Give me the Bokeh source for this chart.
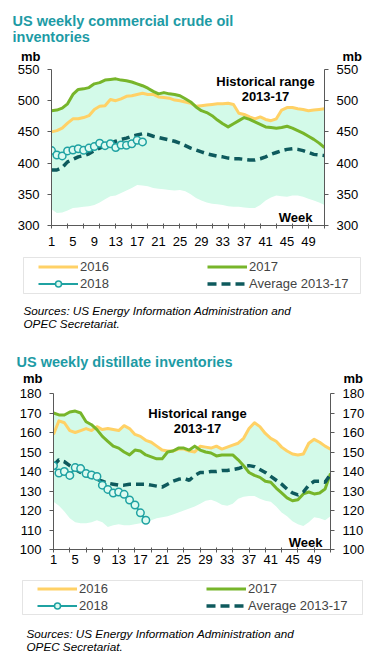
from bokeh.plotting import figure
from bokeh.models import (Range1d, LinearAxis, FixedTicker, Legend, LegendItem,
                          Label, BoxAnnotation)
from bokeh.embed import file_html
from bokeh.resources import INLINE

# ---------------- data ----------------
weeks = list(range(1, 53))
weeks_2018 = list(range(1, 19))
x_tick_labels = [1, 5, 9, 13, 17, 21, 25, 29, 33, 37, 41, 45, 49]
x_minor_ticks = list(range(1, 53, 3))

crude_ticks = [300, 350, 400, 450, 500, 550]
crude_2016 = [450, 452, 456, 464, 471, 471, 473, 476, 486, 491, 492, 502, 500, 503, 507, 508,
              510, 512, 510, 510, 506, 505, 504, 501, 500, 498, 496,
              491, 492, 493, 494, 495, 495, 496, 494, 480, 478, 474, 471, 474, 470, 468, 471,
              485, 489, 489, 487, 486, 484, 485, 486, 487]
crude_2017 = [484, 485, 488, 495, 510, 518, 519, 521, 527, 529, 533, 534, 535, 533, 532, 530,
              527, 524, 520, 515, 511, 513, 511, 510, 508, 503, 498,
              490, 484, 481, 476, 469, 463, 458, 463, 468, 473, 470, 466, 462, 458, 457, 456,
              457, 459, 456, 452, 448, 443, 438, 432, 425]
crude_2018 = [420, 413, 411.5, 419.5, 421, 423, 420.5, 424, 426.5, 432, 428, 431, 425, 429,
              428.5, 431, 436.5, 434]
crude_avg = [389, 389, 393, 402, 406, 410, 412, 415, 420, 424, 428, 432, 435, 438, 440, 443,
             445, 447, 446, 443, 441, 439, 437, 435, 432, 428, 424, 421, 418, 415, 413, 411,
             410, 408, 407, 407, 406, 405, 405, 407, 410, 414, 417, 420, 422, 423, 422, 420,
             417, 414, 413, 412]
crude_max = [484, 485, 488, 495, 510, 518, 519, 521, 527, 529, 533, 534, 535, 533, 532, 530,
             527, 524, 520, 515, 511, 513, 511, 510, 508, 503, 498,
             491, 492, 493, 494, 495, 495, 496, 494, 480, 478, 474, 471, 474, 470, 468, 471,
             485, 489, 489, 487, 486, 484, 485, 486, 487]
crude_min = [326, 320, 321, 324, 328, 329, 330, 331, 333, 337, 342, 347, 348, 352, 356, 360,
             365, 364, 363, 360, 359, 358, 357, 356, 357, 355, 350, 344, 340, 337, 335, 334,
             333, 331, 330, 330, 329, 328, 328, 333, 340, 345, 348, 347, 346, 348, 348, 346,
             343, 340, 337, 333]

dist_ticks = [100, 110, 120, 130, 140, 150, 160, 170, 180]
dist_2016 = [159, 166, 165, 161, 160, 161, 162, 161, 163, 161.5, 162, 161.5, 161, 163.5, 162,
             159, 158, 156, 155, 153, 151, 150.5, 150.5, 151.5, 151.5,
             150.5, 150, 153, 152.5, 152, 153, 151.5, 152.5, 153.5, 154.5, 157, 162, 165, 163,
             159.5, 157, 155.5, 152.5, 150.5, 149, 148.5, 149, 154.5, 156.5, 155, 153, 151.5]
dist_2017 = [170, 169, 169, 170.5, 171, 170, 165.5, 164, 161.5, 158, 155.5, 153, 152, 150,
             148.5, 151, 150.5, 148.5, 147.5, 146.5, 146.5, 150, 150.5, 152, 152, 151,
             153, 151, 150, 149.5, 148, 148.5, 148.5, 148.5, 146, 143, 139.5, 138, 137, 135,
             134.5, 131.5, 129, 126.5, 125, 125.5, 128.5, 129.5, 128.5, 129, 131, 139]
dist_2018 = [143, 139.2, 140, 138, 142, 141.5, 139, 138.2, 137.5, 133, 130.8, 129, 129.5,
             128.3, 125.4, 122.8, 118.8, 115]
dist_avg = [143, 146, 145, 143, 141, 139.5, 138, 137, 136, 135, 134, 133.5, 133, 133, 133.5,
            133.5, 133.5, 133.5, 133, 132.5, 132, 133.5, 135, 136, 136.5, 135.5, 138, 139.5,
            139.5, 140, 140, 140.5, 140.5, 141, 141.5, 142.5, 143, 142.5, 141, 139.5, 137.5,
            135.5, 133.5, 131, 129, 128, 129.5, 133, 135, 135, 134.5, 138.5]
dist_max = [170, 169, 169, 170.5, 171, 170, 165.5, 164, 163, 161.5, 162, 161.5, 161, 163.5,
            162, 159, 158, 156, 155, 153, 151, 150.5, 150.5, 152, 152, 151, 153, 153, 152.5,
            152, 153, 151.5, 152.5, 153.5, 154.5, 157, 162, 165, 163, 159.5, 157, 155.5,
            152.5, 150.5, 149, 148.5, 149, 154.5, 156.5, 155, 153, 151.5]
dist_min = [124.5, 122.5, 119.5, 116, 114, 113.5, 113.5, 114, 115, 114, 111.5, 112.5, 113,
            112.5, 112.5, 113, 113.5, 114, 115, 116, 116.5, 117, 118, 119, 120, 121, 122,
            123.5, 125, 125.5, 124.5, 123, 122.5, 123.5, 126, 127, 127.5, 127.5, 126, 125,
            124.5, 122, 119, 117, 114.5, 113, 112, 114, 116.5, 116, 115, 117]

series_names = ["2016", "2017", "2018", "Average 2013-17"]
source_lines = ["Sources: US Energy Information Administration  and", "OPEC Secretariat."]

# ---------------- style ----------------
FONT = "Liberation Sans"
C2016 = "#FFD166"
C2017 = "#77B52A"
C2018 = "#1FA2A2"
CAVG = "#0E5A5D"
CBAND = "#D3FAE9"
CTITLE = "#1D9BA5"
CAXIS = "#595959"
MARKER_FILL = "#DDFBF1"
W = 376


def text_fig(h):
    """A blank strip whose frame is the whole strip; data units = pixels."""
    f = figure(width=W, height=h, x_range=Range1d(0, W), y_range=Range1d(h, 0),
               output_backend="svg", toolbar_location=None, title=None,
               x_axis_location=None, y_axis_location=None,
               min_border_left=0, min_border_right=0, min_border_top=0,
               min_border_bottom=0, outline_line_color=None)
    f.xgrid.grid_line_color = None
    f.ygrid.grid_line_color = None
    return f


def add_text(f, text, x, y, size="13px", style="normal", color="black", align="left"):
    f.add_layout(Label(x=x, y=y, text=text, text_font=FONT, text_font_size=size,
                       text_font_style=style, text_color=color, text_align=align,
                       text_baseline="alphabetic"))


def header(h, titles, tx, tys, mb_l, mb_r, mb_y):
    f = text_fig(h)
    for t, ty in zip(titles, tys):
        add_text(f, t, tx, ty, size="14.5px", style="bold", color=CTITLE)
    add_text(f, "mb", mb_l, mb_y, style="bold", align="right")
    add_text(f, "mb", mb_r, mb_y, style="bold")
    return f


def footer(h, box, glyph_x, leg_bottom, src_x, src_y):
    f = text_fig(h)
    bl, br, bt, bb = box
    f.add_layout(BoxAnnotation(left=bl, right=br, top=bt, bottom=bb, fill_alpha=0,
                               line_color="#A6A6A6", line_width=1))
    # legend keys (styled like the chart's series); one point kept out of view
    kx, ky = [-50], [-50]
    k16 = f.line(kx, ky, line_color=C2016, line_width=3)
    k17 = f.line(kx, ky, line_color=C2017, line_width=3)
    k18l = f.line(kx, ky, line_color=C2018, line_width=2)
    k18c = f.scatter(kx, ky, marker="circle", size=7.5, line_color=C2018, line_width=1.5,
                     fill_color=MARKER_FILL)
    kavg = f.line(kx, ky, line_color=CAVG, line_width=3.5, line_dash="9 5")
    # legend fills column by column: 2016, 2018 | 2017, Average
    items = [LegendItem(label=series_names[0], renderers=[k16]),
             LegendItem(label=series_names[2], renderers=[k18l, k18c]),
             LegendItem(label=series_names[1], renderers=[k17]),
             LegendItem(label=series_names[3], renderers=[kavg])]
    leg = Legend(items=items, location=(glyph_x, h - leg_bottom), ncols=2,
                 glyph_width=40, glyph_height=15, label_height=15, label_width=125,
                 label_standoff=2, spacing=2, padding=0, margin=0,
                 border_line_color=None, background_fill_alpha=0,
                 label_text_font=FONT, label_text_font_size="13px")
    f.add_layout(leg, "center")
    for i, s in enumerate(source_lines):
        add_text(f, s, src_x, src_y + 13 * i, size="11.7px", style="italic")
    return f


def chart(h, frame, xstandoff, d16, d17, d18, davg, dmax, dmin, yticks, hist, week):
    L, R, T, B = frame
    y0, y1 = yticks[0], yticks[-1]

    def dx(px):
        return 1 + (px - L) * 51.0 / (R - L)

    def dy(py):
        return y1 - (py - T) * (y1 - y0) / float(B - T)

    p = figure(width=W, height=h, x_range=Range1d(1, 52), y_range=Range1d(y0, y1),
               output_backend="svg", toolbar_location=None, title=None,
               min_border_left=L, min_border_right=W - R, min_border_top=T,
               min_border_bottom=h - B, outline_line_color=None)
    p.xgrid.grid_line_color = None
    p.ygrid.grid_line_color = None

    p.varea(x=weeks, y1=dmin, y2=dmax, fill_color=CBAND)
    p.line(weeks, d16, line_color=C2016, line_width=3, line_join="round")
    p.line(weeks, d17, line_color=C2017, line_width=3, line_join="round")
    p.line(weeks, davg, line_color=CAVG, line_width=3.5, line_dash="8 5")
    p.line(weeks_2018, d18, line_color=C2018, line_width=2)
    p.scatter(weeks_2018, d18, marker="circle", size=7.5, line_color=C2018,
              line_width=1.5, fill_color=MARKER_FILL)

    xa = p.xaxis[0]
    xa.ticker = FixedTicker(ticks=x_tick_labels, minor_ticks=x_minor_ticks)
    xa.major_tick_out = 0
    xa.major_tick_in = 0
    xa.minor_tick_out = 3
    xa.minor_tick_in = 2
    xa.minor_tick_line_color = CAXIS
    xa.axis_line_color = CAXIS
    xa.major_label_standoff = xstandoff

    ya = p.yaxis[0]
    ry = LinearAxis()
    p.add_layout(ry, "right")
    for a in (ya, ry):
        a.ticker = FixedTicker(ticks=yticks)
        a.major_tick_out = 4
        a.major_tick_in = 0
        a.minor_tick_line_color = None
        a.axis_line_color = CAXIS
        a.major_tick_line_color = CAXIS
        a.major_label_standoff = 8
    for a in (xa, ya, ry):
        a.major_label_text_font = FONT
        a.major_label_text_font_size = "13px"
        a.major_label_text_color = "black"

    def lab(text, px, py):
        p.add_layout(Label(x=dx(px), y=dy(py), text=text, text_font=FONT,
                           text_font_size="13px", text_font_style="bold",
                           text_color="black", text_align="center",
                           text_baseline="alphabetic"))

    lab("Historical range", hist[0], hist[1])
    lab("2013-17", hist[0], hist[1] + 15)
    lab("Week", week[0], week[1])
    return p


h1 = header(63, ["US weekly commercial crude oil", "inventories"], 12, [20, 36], 40, 342, 56)
c1 = chart(192, (51, 324, 6, 162), 8, crude_2016, crude_2017, crude_2018, crude_avg,
           crude_max, crude_min, crude_ticks, (265, 17.5), (295, 154))
f1 = footer(85, (23, 360, 2, 38), 38, 35.8, 23, 55)

h2 = header(47, ["US weekly distillate inventories"], 16, [21], 42, 343, 38)
c2 = chart(191, (53, 330, 6, 162), 2, dist_2016, dist_2017, dist_2018, dist_avg,
           dist_max, dist_min, dist_ticks, (197, 25.7), (305, 154.7))
f2 = footer(78, (22, 362, 2, 36), 37, 34.5, 26, 55)

# separate roots so that the strips keep their own frames
open("out.html", "w").write(file_html([h1, c1, f1, h2, c2, f2], INLINE))
